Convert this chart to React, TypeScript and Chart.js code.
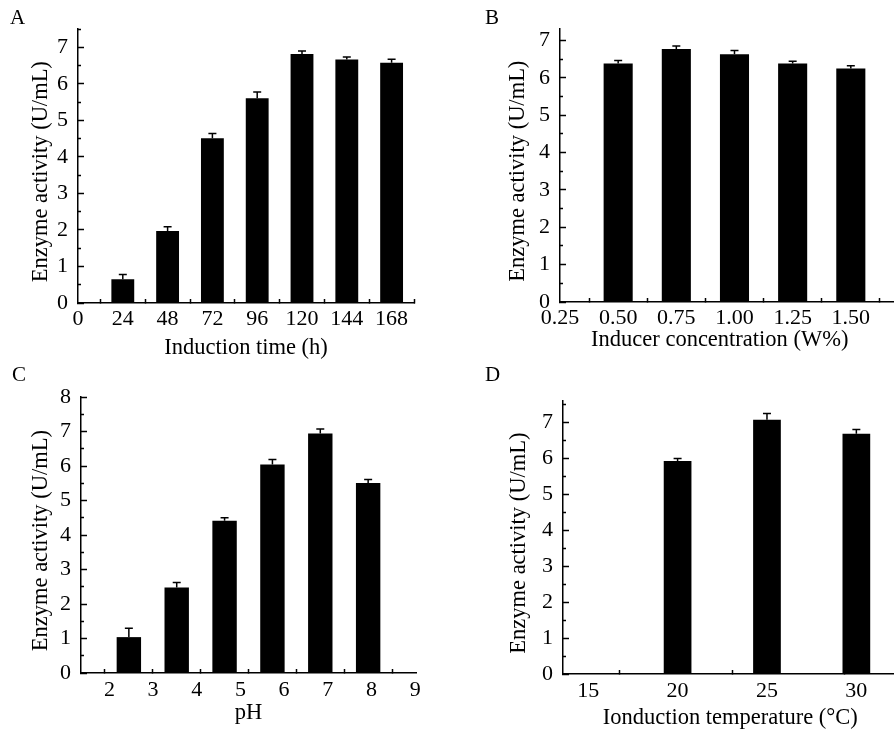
import React, { useEffect, useRef } from "react";
import { Chart, registerables } from "chart.js";

Chart.register(...registerables);

const FONT = "'Liberation Serif', 'Times New Roman', Times, serif";

// ---------- Panel A: induction time ----------
const timeHours = [24, 48, 72, 96, 120, 144, 168];
const timeActivity = [0.65, 1.97, 4.51, 5.61, 6.82, 6.67, 6.58];
const timeError = [0.13, 0.12, 0.13, 0.17, 0.08, 0.07, 0.1];
const timeTickLabels = [0, 24, 48, 72, 96, 120, 144, 168];

// ---------- Panel B: inducer concentration ----------
const inducerConc = [0.5, 0.75, 1.0, 1.25, 1.5];
const inducerActivity = [6.38, 6.77, 6.63, 6.38, 6.25];
const inducerError = [0.08, 0.08, 0.1, 0.06, 0.07];
const inducerTickLabels = [0.25, 0.5, 0.75, 1.0, 1.25, 1.5];

// ---------- Panel C: pH ----------
const phLevels = [3, 4, 5, 6, 7, 8];
const phActivity = [1.04, 2.48, 4.41, 6.04, 6.94, 5.51];
const phError = [0.26, 0.14, 0.09, 0.15, 0.13, 0.1];
const phBarAxisTicks = [2, 3, 4, 5, 6, 7, 8, 9];
const phTickLabels = [2, 3, 4, 5, 6, 7, 8, 9];

// ---------- Panel D: induction temperature ----------
const tempLevels = [20, 25, 30];
const tempActivity = [5.93, 7.08, 6.69];
const tempError = [0.07, 0.17, 0.12];
const tempTickLabels = [15, 20, 25, 30];
const tempMarkAxisTicks = [0, 1, 2, 3];

const halfSteps = (max: number) => {
  const out: number[] = [];
  for (let v = 0; v <= max + 1e-9; v += 0.5) out.push(Math.round(v * 10) / 10);
  return out;
};

const errorBarPlugin = {
  id: "errorBars",
  afterDatasetsDraw(chart: any, _args: any, opts: any) {
    const errs: number[] | undefined = opts && opts.errors;
    if (!errs) return;
    const meta = chart.getDatasetMeta(0);
    const ds = chart.data.datasets[0];
    const yScale = chart.scales.y;
    const ctx = chart.ctx;
    ctx.save();
    ctx.strokeStyle = "#000";
    ctx.lineWidth = 1.5;
    meta.data.forEach((el: any, i: number) => {
      const v = ds.data[i].y;
      const top = yScale.getPixelForValue(v + errs[i]);
      ctx.beginPath();
      ctx.moveTo(el.x, el.y);
      ctx.lineTo(el.x, top);
      ctx.moveTo(el.x - 4, top);
      ctx.lineTo(el.x + 4, top);
      ctx.stroke();
    });
    ctx.restore();
  },
};

const tickFont = { family: FONT, size: 22 };
const titleFont = { family: FONT, size: 22.5 };

function yAxis(max: number, width: number, titlePadTop: number) {
  const ticks = halfSteps(max);
  return {
    type: "linear",
    position: "left",
    min: 0,
    max,
    bounds: "data",
    afterBuildTicks: (s: any) => {
      s.ticks = ticks.map((v) => ({ value: v }));
    },
    afterFit: (s: any) => {
      s.width = width;
    },
    grid: {
      display: true,
      drawOnChartArea: false,
      drawTicks: true,
      tickLength: -6,
      tickWidth: 1.5,
      tickColor: "#000",
      tickBorderDash: (c: any) =>
        c.tick && Math.abs(c.tick.value % 1) > 1e-6 ? [0, 3, 3, 40] : [],
    },
    border: { display: true, color: "#000", width: 1.5 },
    ticks: {
      autoSkip: false,
      padding: 16,
      color: "#000",
      font: tickFont,
      callback: (v: any) => (Math.abs(v % 1) < 1e-6 ? String(v) : ""),
    },
    title: {
      display: true,
      text: "Enzyme activity (U/mL)  ",
      color: "#000",
      font: titleFont,
      padding: { top: titlePadTop, bottom: 0 },
    },
  };
}

function markAxis(min: number, max: number, tickVals: number[], height: number, weight: number, extra: any = {}) {
  return {
    type: "linear",
    position: "bottom",
    weight,
    min,
    max,
    bounds: "data",
    offset: false,
    afterBuildTicks: (s: any) => {
      s.ticks = tickVals.map((v) => ({ value: v }));
    },
    afterFit: (s: any) => {
      s.height = height;
    },
    ...extra,
  };
}

function letterTitle(text: string, padTop: number, padBottom: number) {
  return {
    display: true,
    text,
    align: "start",
    color: "#000",
    font: { family: FONT, size: 21, weight: "normal", lineHeight: 1 },
    padding: { top: padTop, bottom: padBottom },
  };
}

function baseOptions(padLeft: number, padRight: number) {
  return {
    responsive: false,
    maintainAspectRatio: false,
    animation: false,
    devicePixelRatio: 1,
    layout: { padding: { left: padLeft, right: padRight, top: 0, bottom: 0 } },
  };
}

const tickGrid = {
  display: true,
  drawOnChartArea: false,
  drawTicks: true,
  offset: true,
  tickLength: -4,
  tickWidth: 1.5,
  tickColor: "#000",
};
const noGrid = { display: false, drawTicks: false, tickLength: 0 };
const axisBorder = { display: true, color: "#000", width: 1.5 };

function configA() {
  return {
    type: "bar",
    data: {
      datasets: [
        {
          data: timeHours.map((h, i) => ({ x: h, y: timeActivity[i] })),
          backgroundColor: "#000",
          borderWidth: 0,
          categoryPercentage: 1,
          barPercentage: 0.51,
        },
      ],
    },
    options: {
      ...baseOptions(10, 33),
      plugins: {
        legend: { display: false },
        tooltip: { enabled: false },
        title: letterTitle("A", 5.5, 0.5),
        errorBars: { errors: timeError },
      },
      scales: {
        x: markAxis(0, 180, timeTickLabels, 63, 0, {
          grid: tickGrid,
          border: axisBorder,
          ticks: { autoSkip: false, maxRotation: 0, padding: 7.1, color: "#000", font: tickFont },
          title: { display: true, text: "Induction time (h)", color: "#000", font: titleFont, padding: { top: 0, bottom: 4.5 } },
        }),
        y: yAxis(7.5, 68, 17.3),
      },
    },
    plugins: [errorBarPlugin],
  };
}

function configB() {
  return {
    type: "bar",
    data: {
      datasets: [
        {
          data: inducerConc.map((c, i) => ({ x: c, y: inducerActivity[i] })),
          backgroundColor: "#000",
          borderWidth: 0,
          categoryPercentage: 1,
          barPercentage: 0.5,
        },
      ],
    },
    options: {
      ...baseOptions(38, 15),
      plugins: {
        legend: { display: false },
        tooltip: { enabled: false },
        title: letterTitle("B", 5.5, 0.5),
        errorBars: { errors: inducerError },
      },
      scales: {
        x: markAxis(0.25, 1.72, inducerTickLabels, 64, 0, {
          grid: tickGrid,
          border: axisBorder,
          ticks: {
            autoSkip: false,
            maxRotation: 0,
            padding: 7.1,
            color: "#000",
            font: tickFont,
            callback: (v: any) => Number(v).toFixed(2),
          },
          title: {
            display: true,
            text: "Inducer concentration (W%)    ",
            color: "#000",
            font: titleFont,
            padding: { top: 0, bottom: 12.5 },
          },
        }),
        y: yAxis(7.3, 75, 19.3),
      },
    },
    plugins: [errorBarPlugin],
  };
}

function configC() {
  return {
    type: "bar",
    data: {
      datasets: [
        {
          xAxisID: "xb",
          yAxisID: "y",
          data: phLevels.map((p, i) => ({ x: p, y: phActivity[i] })),
          backgroundColor: "#000",
          borderWidth: 0,
          categoryPercentage: 1,
          barPercentage: 0.51,
        },
      ],
    },
    options: {
      ...baseOptions(12, 31),
      plugins: {
        legend: { display: false },
        tooltip: { enabled: false },
        title: letterTitle("C", 4.5, 11.5),
        errorBars: { errors: phError },
      },
      scales: {
        xb: markAxis(2, 9, phBarAxisTicks, 0, 0, {
          grid: tickGrid,
          border: axisBorder,
          ticks: { display: false, autoSkip: false },
        }),
        xl: markAxis(1.35, 9.02, phTickLabels, 57, 1, {
          grid: noGrid,
          border: { display: false },
          ticks: { autoSkip: false, maxRotation: 0, padding: 3.8, color: "#000", font: tickFont },
          title: { display: true, text: "pH", color: "#000", font: titleFont, padding: { top: 0, bottom: 3.2 } },
        }),
        y: yAxis(8, 69, 15.3),
      },
    },
    plugins: [errorBarPlugin],
  };
}

function configD() {
  return {
    type: "bar",
    data: {
      datasets: [
        {
          xAxisID: "x",
          yAxisID: "y",
          data: tempLevels.map((t, i) => ({ x: t, y: tempActivity[i] })),
          backgroundColor: "#000",
          borderWidth: 0,
          categoryPercentage: 1,
          barPercentage: 0.31,
        },
      ],
    },
    options: {
      ...baseOptions(38, 7),
      plugins: {
        legend: { display: false },
        tooltip: { enabled: false },
        title: letterTitle("D", 4.5, 15.5),
        errorBars: { errors: tempError },
      },
      scales: {
        xt: markAxis(0, 3.168, tempMarkAxisTicks, 0, 0, {
          grid: tickGrid,
          border: axisBorder,
          ticks: { display: false, autoSkip: false },
        }),
        x: markAxis(13.59, 33.56, tempTickLabels, 60, 1, {
          grid: noGrid,
          border: { display: false },
          ticks: { autoSkip: false, maxRotation: 0, padding: 4.5, color: "#000", font: tickFont },
          title: {
            display: true,
            text: "Ionduction temperature (\u00B0C)    ",
            color: "#000",
            font: titleFont,
            padding: { top: 0, bottom: 2.2 },
          },
        }),
        y: yAxis(7.6, 78, 21),
      },
    },
    plugins: [errorBarPlugin],
  };
}

type Box = { left: number; top: number; width: number; height: number };

function ChartPanel({ box, makeConfig }: { box: Box; makeConfig: () => any }) {
  const ref = useRef<HTMLCanvasElement | null>(null);
  useEffect(() => {
    if (!ref.current) return;
    const chart = new Chart(ref.current, makeConfig());
    return () => chart.destroy();
  }, []);
  return (
    <div style={{ position: "absolute", left: box.left, top: box.top, width: box.width, height: box.height }}>
      <canvas
        ref={ref}
        width={box.width}
        height={box.height}
        style={{ display: "block", width: box.width, height: box.height }}
      />
    </div>
  );
}

export default function App() {
  return (
    <div
      style={{
        position: "fixed",
        left: 0,
        top: 0,
        width: 894,
        height: 730,
        overflow: "hidden",
        background: "#fff",
      }}
    >
      <ChartPanel box={{ left: 0, top: 0, width: 447, height: 366 }} makeConfig={configA} />
      <ChartPanel box={{ left: 447, top: 0, width: 470, height: 366 }} makeConfig={configB} />
      <ChartPanel box={{ left: 0, top: 360, width: 447, height: 370 }} makeConfig={configC} />
      <ChartPanel box={{ left: 447, top: 360, width: 480, height: 374 }} makeConfig={configD} />
    </div>
  );
}
